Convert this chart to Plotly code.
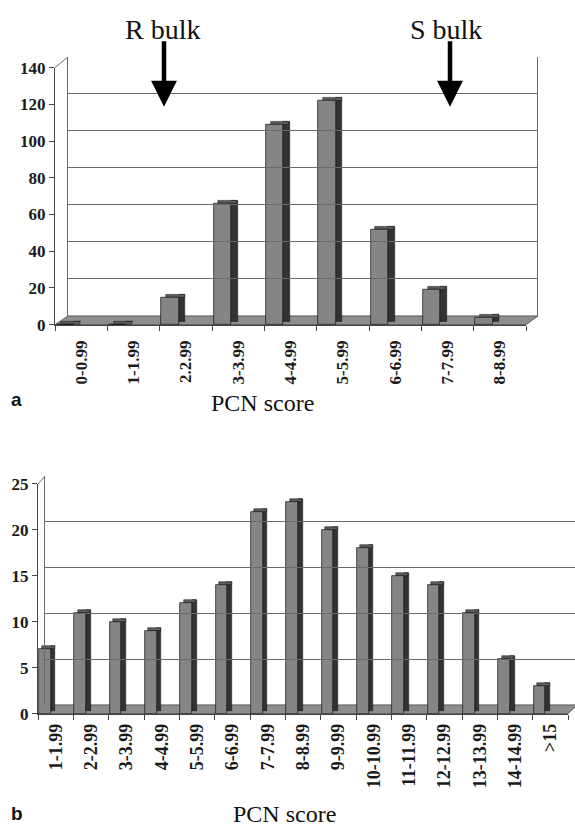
import plotly.graph_objects as go

# ---------------- data ----------------
cats_a = ["0-0.99", "1-1.99", "2.2.99", "3-3.99", "4-4.99", "5-5.99", "6-6.99", "7-7.99", "8-8.99"]
vals_a = [0, 0, 15, 66, 109, 122, 52, 19, 4]
yticks_a = [0, 20, 40, 60, 80, 100, 120, 140]

cats_b = ["1-1.99", "2-2.99", "3-3.99", "4-4.99", "5-5.99", "6-6.99", "7-7.99", "8-8.99",
          "9-9.99", "10-10.99", "11-11.99", "12-12.99", "13-13.99", "14-14.99", ">15"]
vals_b = [7, 11, 10, 9, 12, 14, 22, 23, 20, 18, 15, 14, 11, 6, 3]
yticks_b = [0, 5, 10, 15, 20, 25]

x_title = "PCN score"

# ---------------- geometry helpers ----------------
W, H = 575, 839
def fx(px): return px / W
def fy(py): return 1 - py / H

SERIF = "Liberation Serif, Times New Roman, serif"
SANS = "Liberation Sans, Arial, sans-serif"
FRONT = "#858585"
SIDE = "#333333"
TOP = "#5c5c5c"
GRID = "#6a6a6a"

fig = go.Figure()

def add_bars(cats, vals, depth, xa, ya):
    # side face
    fig.add_trace(go.Bar(x=cats, y=vals, base=[depth] * len(vals), width=0.13, offset=-0.14,
                         marker=dict(color=SIDE, line=dict(color="#111", width=0.5)),
                         xaxis=xa, yaxis=ya, showlegend=False, hoverinfo="skip"))
    # top face
    fig.add_trace(go.Bar(x=cats, y=[depth] * len(vals), base=vals, width=0.36, offset=-0.38,
                         marker=dict(color=TOP, line=dict(color="#111", width=0.5)),
                         xaxis=xa, yaxis=ya, showlegend=False, hoverinfo="skip"))
    # front face
    fig.add_trace(go.Bar(x=cats, y=vals, width=0.33, offset=-0.47,
                         marker=dict(color=FRONT, line=dict(color="#111", width=0.7)),
                         xaxis=xa, yaxis=ya, showlegend=False, hovertemplate="%{x}: %{y}<extra></extra>"))

add_bars(cats_a, vals_a, 1.6, "x", "y")
add_bars(cats_b, vals_b, 0.33, "x3", "y3")

# empty traces so the back-wall subplots are drawn
fig.add_trace(go.Scatter(x=[], y=[], xaxis="x2", yaxis="y2", showlegend=False))
fig.add_trace(go.Scatter(x=[], y=[], xaxis="x4", yaxis="y4", showlegend=False))

tickfont = dict(family=SERIF, size=17, color="#1a1a1a", weight="bold")
catfont_a = dict(family=SERIF, size=17, color="#1a1a1a", weight="bold")
catfont_b = dict(family=SERIF, size=18, color="#1a1a1a", weight="bold")

fig.update_layout(
    width=W, height=H,
    margin=dict(l=0, r=0, t=0, b=0),
    paper_bgcolor="white", plot_bgcolor="rgba(0,0,0,0)",
    barmode="overlay", bargap=0,
    # ---- chart a front ----
    xaxis=dict(domain=[fx(55), fx(526)], type="category", range=[-0.5, 8.5],
               tickson="boundaries", ticks="outside", ticklen=5, tickcolor="#444",
               showline=True, linecolor="#444", linewidth=1, showgrid=False,
               tickangle=-90, tickfont=catfont_a, ticklabelstandoff=8, anchor="y"),
    yaxis=dict(domain=[fy(323), fy(60)], range=[0, 140], tickvals=yticks_a,
               ticks="outside", ticklen=5, tickcolor="#444", showline=True, linecolor="#444",
               showgrid=False, zeroline=False, tickfont=tickfont, anchor="x"),
    # ---- chart a back wall ----
    xaxis2=dict(domain=[fx(68), fx(537)], range=[0, 1], showticklabels=False, ticks="",
                showgrid=False, zeroline=False, showline=False, anchor="y2"),
    yaxis2=dict(domain=[fy(314), fy(49)], range=[0, 140], tickvals=yticks_a, showticklabels=False,
                ticks="", showgrid=True, gridcolor=GRID, gridwidth=1, zeroline=False,
                showline=True, mirror=True, linecolor=GRID, anchor="x2"),
    # ---- chart b front ----
    xaxis3=dict(domain=[fx(38), fx(568)], type="category", range=[-0.5, 14.5],
                tickson="boundaries", ticks="outside", ticklen=5, tickcolor="#444",
                showline=True, linecolor="#444", linewidth=1, showgrid=False,
                tickangle=-90, tickfont=catfont_b, ticklabelstandoff=2, anchor="y3"),
    yaxis3=dict(domain=[fy(721), fy(486)], range=[0, 25], tickvals=yticks_b,
                ticks="outside", ticklen=5, tickcolor="#444", showline=True, linecolor="#444",
                showgrid=False, zeroline=False, tickfont=tickfont, anchor="x3"),
    # ---- chart b back wall ----
    xaxis4=dict(domain=[fx(45), 1.0], range=[0, 1], showticklabels=False, ticks="",
                showgrid=False, zeroline=False, showline=False, anchor="y4"),
    yaxis4=dict(domain=[fy(712), fy(478)], range=[0, 25], tickvals=yticks_b, showticklabels=False,
                ticks="", showgrid=True, gridcolor=GRID, gridwidth=1, zeroline=False,
                showline=True, mirror=False, linecolor=GRID, anchor="x4"),
)

def P(px, py):
    return f"{fx(px):.5f},{fy(py):.5f}"

shapes = [
    # floor a
    dict(type="path", xref="paper", yref="paper", layer="below",
         path=f"M {P(55,323)} L {P(526,323)} L {P(538,314)} L {P(68,314)} Z",
         fillcolor="#8e8e8e", line=dict(color="#444", width=0.8)),
    # left wall top edge a
    dict(type="line", xref="paper", yref="paper", x0=fx(55), y0=fy(60), x1=fx(68), y1=fy(49),
         line=dict(color=GRID, width=1)),
    # floor b
    dict(type="path", xref="paper", yref="paper", layer="below",
         path=f"M {P(38,721)} L {P(568,721)} L {P(577,712)} L {P(45,712)} Z",
         fillcolor="#8e8e8e", line=dict(color="#444", width=0.8)),
    dict(type="line", xref="paper", yref="paper", x0=fx(38), y0=fy(486), x1=fx(45), y1=fy(478),
         line=dict(color=GRID, width=1)),
]
fig.update_layout(shapes=shapes)

ann = [
    dict(text="R bulk", x=fx(162), y=fy(21), xref="paper", yref="paper", showarrow=False,
         font=dict(family=SERIF, size=28, color="#111"), xanchor="center", yanchor="middle"),
    dict(text="S bulk", x=fx(446), y=fy(21), xref="paper", yref="paper", showarrow=False,
         font=dict(family=SERIF, size=28, color="#111"), xanchor="center", yanchor="middle"),
    dict(text="", x=fx(164), y=fy(100), xref="paper", yref="paper", showarrow=True,
         ax=0, ay=-67, arrowhead=2, arrowwidth=4.5, arrowsize=1.15, arrowcolor="#000", standoff=0),
    dict(text="", x=fx(450), y=fy(100), xref="paper", yref="paper", showarrow=True,
         ax=0, ay=-67, arrowhead=2, arrowwidth=4.5, arrowsize=1.15, arrowcolor="#000", standoff=0),
    dict(text="a", x=fx(9), y=fy(400), xref="paper", yref="paper", showarrow=False,
         font=dict(family=SANS, size=19, color="#111", weight="bold"), xanchor="left", yanchor="middle"),
    dict(text=x_title, x=fx(262), y=fy(403), xref="paper", yref="paper", showarrow=False,
         font=dict(family=SERIF, size=24, color="#111"), xanchor="center", yanchor="middle"),
    dict(text="b", x=fx(9), y=fy(823), xref="paper", yref="paper", showarrow=False,
         font=dict(family=SANS, size=19, color="#111", weight="bold"), xanchor="left", yanchor="middle"),
    dict(text=x_title, x=fx(284), y=fy(824), xref="paper", yref="paper", showarrow=False,
         font=dict(family=SERIF, size=24, color="#111"), xanchor="center", yanchor="middle"),
]
fig.update_layout(annotations=ann)

fig.write_html("out.html", config={"displayModeBar": False},
               post_script="document.body.style.margin='0px';")
